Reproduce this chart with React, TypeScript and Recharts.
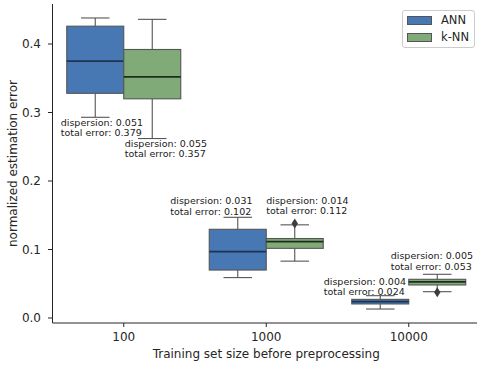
import React from 'react';
import { ComposedChart, Bar, XAxis, YAxis, Legend } from 'recharts';

const categories = ['100', '1000', '10000'];

// ANN box statistics per training set size
const annMin = [0.293, 0.059, 0.0131];
const annQ1 = [0.328, 0.07, 0.0205];
const annMedian = [0.375, 0.097, 0.0238];
const annQ3 = [0.426, 0.1295, 0.0272];
const annMax = [0.438, 0.147, 0.0326];
const annOutliers: number[][] = [[], [], []];
const annDispersion = ['0.051', '0.031', '0.004'];
const annTotalError = ['0.379', '0.102', '0.024'];

// k-NN box statistics
const knnMin = [0.262, 0.083, 0.0384];
const knnQ1 = [0.32, 0.1017, 0.0482];
const knnMedian = [0.352, 0.1115, 0.0526];
const knnQ3 = [0.392, 0.116, 0.0565];
const knnMax = [0.436, 0.136, 0.0638];
const knnOutliers: number[][] = [[], [0.138], [0.0375]];
const knnDispersion = ['0.055', '0.014', '0.005'];
const knnTotalError = ['0.357', '0.112', '0.053'];

const yTicks = [0, 0.1, 0.2, 0.3, 0.4];
const seriesNames = ['ANN', 'k-NN'];

// where the annotation text sits (x shift from box left in px, y in data units)
const annNoteDx = [-6, -39, -28];
const annNoteY = [0.2803, 0.166, 0.0482];
const knnNoteDx = [1, 0, -18];
const knnNoteY = [0.2496, 0.1664, 0.0857];

const COLORS = ['#4778b3', '#80ab79'];
const MEDIAN = ['#1d3353', '#1e2e1e'];
const EDGE = '#555555';
const AXIS = '#262626';

const rows = categories.map((cat, i) => ({
  cat,
  ann: {
    min: annMin[i], q1: annQ1[i], med: annMedian[i], q3: annQ3[i], max: annMax[i],
    out: annOutliers[i], disp: annDispersion[i], err: annTotalError[i],
    dx: annNoteDx[i], ny: annNoteY[i],
  },
  knn: {
    min: knnMin[i], q1: knnQ1[i], med: knnMedian[i], q3: knnQ3[i], max: knnMax[i],
    out: knnOutliers[i], disp: knnDispersion[i], err: knnTotalError[i],
    dx: knnNoteDx[i], ny: knnNoteY[i],
  },
}));

const renderBox = (p: any, key: 'ann' | 'knn', idx: number) => {
  const s = p.payload[key];
  const top = Math.min(p.y, p.y + p.height);
  const h = Math.abs(p.height);
  const k = h / (s.max - s.min);
  const py = (v: number) => top + (s.max - v) * k;
  const x0 = p.x;
  const w = p.width;
  const cx = x0 + w / 2;
  const cap = w / 4;
  const ty = py(s.ny);
  return (
    <g>
      <line x1={cx} x2={cx} y1={py(s.max)} y2={py(s.q3)} stroke={EDGE} strokeWidth={1.1} />
      <line x1={cx} x2={cx} y1={py(s.q1)} y2={py(s.min)} stroke={EDGE} strokeWidth={1.1} />
      <line x1={cx - cap} x2={cx + cap} y1={py(s.max)} y2={py(s.max)} stroke={EDGE} strokeWidth={1.1} />
      <line x1={cx - cap} x2={cx + cap} y1={py(s.min)} y2={py(s.min)} stroke={EDGE} strokeWidth={1.1} />
      <rect x={x0} y={py(s.q3)} width={w} height={py(s.q1) - py(s.q3)} fill={COLORS[idx]} stroke={EDGE} strokeWidth={1.1} />
      <line x1={x0} x2={x0 + w} y1={py(s.med)} y2={py(s.med)} stroke={MEDIAN[idx]} strokeWidth={1.8} />
      {s.out.map((o: number, j: number) => (
        <path key={j} d={`M${cx},${py(o) - 5} L${cx + 3.2},${py(o)} L${cx},${py(o) + 5} L${cx - 3.2},${py(o)} Z`} fill="#3d3d3d" />
      ))}
      <text x={x0 + s.dx} y={ty} fontSize={9.5} fill="#1a1a1a">{`dispersion: ${s.disp}`}</text>
      <text x={x0 + s.dx} y={ty + 10.3} fontSize={9.5} fill="#1a1a1a">{`total error: ${s.err}`}</text>
    </g>
  );
};

const LegendBox = () => (
  <div style={{ width: 73, height: 38, boxSizing: 'border-box', border: '1px solid #cccccc', borderRadius: 3, background: '#fff', position: 'relative', fontSize: 11.5, color: AXIS }}>
    {seriesNames.map((n, i) => (
      <div key={n} style={{ position: 'absolute', left: 4, top: 4 + i * 17, display: 'flex', alignItems: 'center' }}>
        <span style={{ display: 'inline-block', width: 25, height: 9, boxSizing: 'border-box', background: COLORS[i], border: `1px solid ${EDGE}` }} />
        <span style={{ marginLeft: 9, lineHeight: '11px' }}>{n}</span>
      </div>
    ))}
  </div>
);

const App: React.FC = () => {
  return (
    <div style={{ position: 'absolute', left: 0, top: 0, width: 477, height: 365, overflow: 'hidden', background: '#fff', fontFamily: 'DejaVu Sans' }}>
      <ComposedChart
        width={485}
        height={365}
        data={rows}
        margin={{ top: 4, right: 5, bottom: 12, left: 8.5 }}
        barCategoryGap="10%"
        barGap={0}
      >
        <XAxis
          dataKey="cat"
          height={30}
          tick={{ fontSize: 12, fill: AXIS }}
          tickSize={4}
          tickMargin={5.5}
          axisLine={{ stroke: AXIS }}
          tickLine={{ stroke: AXIS }}
          label={(props: any) => {
            const vb = props.viewBox;
            return (
              <text x={vb.x + vb.width / 2} y={vb.y + 34.7} textAnchor="middle" fontSize={12} fill={AXIS}>
                Training set size before preprocessing
              </text>
            );
          }}
        />
        <XAxis xAxisId="top" orientation="top" dataKey="cat" height={0} tick={false} tickLine={false} axisLine={{ stroke: AXIS }} />
        <YAxis
          type="number"
          domain={[-0.0073, 0.4584]}
          ticks={yTicks}
          allowDataOverflow
          width={44}
          tickSize={4.5}
          tickMargin={7}
          tickFormatter={(v: number) => v.toFixed(1)}
          tick={{ fontSize: 12, fill: AXIS }}
          axisLine={{ stroke: AXIS }}
          tickLine={{ stroke: AXIS }}
          label={(props: any) => {
            const vb = props.viewBox;
            const cy = vb.y + vb.height / 2;
            return (
              <text x={17} y={cy} transform={`rotate(-90 17 ${cy})`} textAnchor="middle" fontSize={12} fill={AXIS}>
                normalized estimation error
              </text>
            );
          }}
        />
        <Legend
          layout="vertical"
          align="center"
          verticalAlign="middle"
          wrapperStyle={{ left: 402, top: 10, width: 73, height: 38 }}
          content={() => <LegendBox />}
        />
        <Bar
          dataKey={(d: any) => [d.ann.min, d.ann.max]}
          name={seriesNames[0]}
          fill={COLORS[0]}
          isAnimationActive={false}
          shape={(p: any) => renderBox(p, 'ann', 0)}
        />
        <Bar
          dataKey={(d: any) => [d.knn.min, d.knn.max]}
          name={seriesNames[1]}
          fill={COLORS[1]}
          isAnimationActive={false}
          shape={(p: any) => renderBox(p, 'knn', 1)}
        />
      </ComposedChart>
    </div>
  );
};

export default App;
